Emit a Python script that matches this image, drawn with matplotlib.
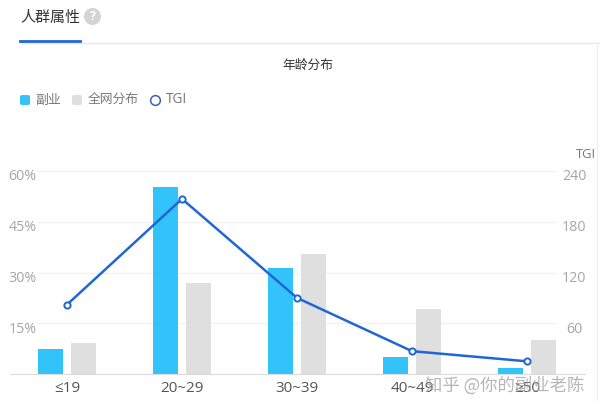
import matplotlib
matplotlib.use("Agg")
import matplotlib.pyplot as plt
from matplotlib.patches import FancyBboxPatch, Circle
from matplotlib.lines import Line2D

plt.rcParams["font.family"] = ["Open Sans", "Noto Sans CJK SC", "DejaVu Sans"]

categories = ["≤19", "20~29", "30~39", "40~49", "≥50"]
fuye = [7.4, 55.3, 31.3, 5.1, 1.7]
quanwang = [9.2, 26.9, 35.5, 19.2, 10.0]
tgi = [82, 207, 90, 27, 15]
pct_ticks = [15, 30, 45, 60]
pct_labels = ["15%", "30%", "45%", "60%"]
tgi_ticks = [60, 120, 180, 240]
tgi_labels = ["60", "120", "180", "240"]

W, H = 600, 409
BLUE = "#33c3fb"
GREY = "#dfdfdf"
LINE = "#2166d6"
CJK = ["Noto Sans CJK SC", "DejaVu Sans"]


def px(x, y):
    return x / W, 1 - y / H


fig = plt.figure(figsize=(6, 4.09), dpi=100)
ax = fig.add_axes([9.5 / W, 35 / H, 575 / W, 203 / H])
ax2 = ax.twinx()

x = list(range(len(categories)))
ax.bar([i - 0.144 for i in x], fuye, width=0.222, color=BLUE, zorder=2)
ax.bar([i + 0.144 for i in x], quanwang, width=0.222, color=GREY, zorder=2)
ax.set_xlim(-0.5, 4.5)
ax.set_ylim(0, 60)
ax.set_yticks([])
ax.set_xticks(x)
ax.set_xticklabels(categories, fontsize=11, color="#555555")
ax.tick_params(axis="x", length=0, pad=5)
# gridlines stop short of the tick labels
ax.hlines(pct_ticks, -0.26, 4.26, color="#f2f2f2", lw=1, zorder=0)
for s in ["top", "left", "right"]:
    ax.spines[s].set_visible(False)
ax.spines["bottom"].set_color("#dcdcdc")

ax2.plot(x, tgi, color=LINE, lw=1.8, marker="o", ms=4.5, mfc="white", mec=LINE, mew=1.4, zorder=5)
ax2.set_ylim(0, 240)
ax2.set_yticks([])
for s in ax2.spines.values():
    s.set_visible(False)

for v, lab in zip(pct_ticks, pct_labels):
    ax.annotate(lab, (0, v), xycoords=("axes fraction", "data"), xytext=(13, -6),
                textcoords="offset pixels", ha="center", va="center", fontsize=10.3, color="#a6a6a6")
for v, lab in zip(tgi_ticks, tgi_labels):
    ax2.annotate(lab, (1, v), xycoords=("axes fraction", "data"), xytext=(-10.5, -6),
                 textcoords="offset pixels", ha="center", va="center", fontsize=10.3, color="#a6a6a6")

# header
fig.text(*px(20, 18), "人群属性", fontsize=10.8, color="#333333", va="center", ha="left", family=CJK)
help_ax = fig.add_axes([84 / W, 1 - 25 / H, 17 / W, 17 / H])
help_ax.axis("off")
help_ax.set_xlim(-1, 1)
help_ax.set_ylim(-1, 1)
help_ax.add_patch(Circle((0, 0), 1, color="#d4d4d4", lw=0))
help_ax.text(0, -0.03, "?", color="white", fontsize=9, ha="center", va="center", weight="bold")
fig.add_artist(Line2D([20 / W, 600 / W], [1 - 42.5 / H] * 2, color="#e8e8e8", lw=1))
fig.add_artist(Line2D([20 / W, 80 / W], [1 - 41 / H] * 2, color="#2166d6", lw=2))
fig.add_artist(Line2D([597 / W, 597 / W], [1 - 43 / H, 1 - 400 / H], color="#f0f0f0", lw=1))

fig.text(*px(308, 65), "年龄分布", fontsize=9.2, color="#333333", va="center", ha="center", family=CJK)

# legend
fig.add_artist(FancyBboxPatch((20 / W, 1 - 105 / H), 10 / W, 10 / H, boxstyle="round,pad=0,rounding_size=0.004",
                              transform=fig.transFigure, fc=BLUE, ec="none"))
fig.text(*px(35, 100), "副业", fontsize=9.3, color="#777777", va="center", family=CJK)
fig.add_artist(FancyBboxPatch((72 / W, 1 - 105 / H), 10 / W, 10 / H, boxstyle="round,pad=0,rounding_size=0.004",
                              transform=fig.transFigure, fc=GREY, ec="none"))
fig.text(*px(87.5, 100), "全网分布", fontsize=9.2, color="#777777", va="center", family=CJK)
fig.add_artist(Line2D([155 / W], [1 - 100 / H], marker="o", ms=7, mfc="white", mec="#3a62b8", mew=1.1, ls="none"))
fig.text(*px(166, 99.5), "TGI", fontsize=9.8, color="#777777", va="center")

fig.text(*px(585.5, 154), "TGI", fontsize=9.3, color="#777777", va="center", ha="center")

# watermark
fig.text(*px(584, 386), "知乎 @你的副业老陈", fontsize=12.5, color="#aaaaaa", alpha=0.85, va="center", ha="right", family=CJK)

fig.savefig("out.png", dpi=100)
